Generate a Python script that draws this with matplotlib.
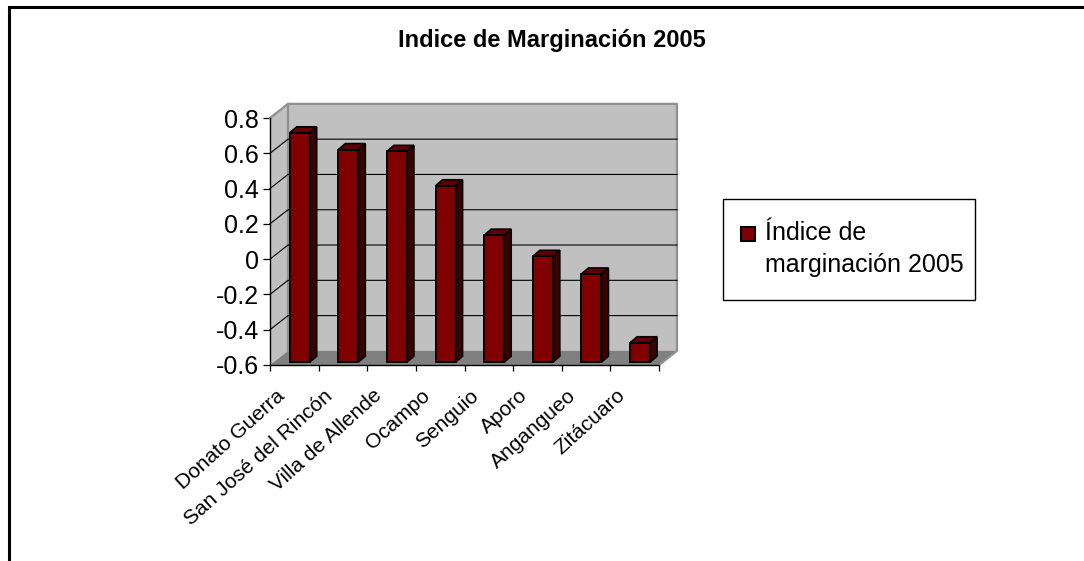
#!/usr/bin/env python3
"""Indice de marginacion 2005, drawn as a fake 3D column chart."""

import matplotlib
matplotlib.use('Agg')
import matplotlib.pyplot as plt
from matplotlib.patches import Polygon, Rectangle

plt.rcParams['font.family'] = ['Liberation Sans', 'DejaVu Sans']
plt.rcParams['axes.unicode_minus'] = False

municipios = ['Donato Guerra', 'San José del Rincón', 'Villa de Allende', 'Ocampo',
              'Senguio', 'Aporo', 'Angangueo', 'Zitácuaro']
indice = [0.70, 0.605, 0.595, 0.40, 0.12, 0.0, -0.10, -0.49]
y_ticks = [-0.6, -0.4, -0.2, 0, 0.2, 0.4, 0.6, 0.8]
y_labels = ['-0.6', '-0.4', '-0.2', '0', '0.2', '0.4', '0.6', '0.8']

W, H = 1084, 561
BAR = '#800000'
SIDE = '#3c0000'
TOP = '#600000'
BOX = '#909090'

fig = plt.figure(figsize=(W / 100, H / 100), dpi=100, facecolor='white')

# page frame, only top and left are visible in the crop
fig.add_artist(plt.Line2D([9 / W, 9 / W, 1], [0, 1 - 7 / H, 1 - 7 / H],
                          color='black', lw=2.2, solid_joinstyle='miter'))

ax = fig.add_axes([270 / W, 1 - 365 / H, 389 / W, 247 / H])
ax.set_xlim(0, 8)
ax.set_ylim(-0.6, 0.8)
ax.patch.set_visible(False)
for s in ['top', 'right']:
    ax.spines[s].set_visible(False)
for s in ['left', 'bottom']:
    ax.spines[s].set_linewidth(1.0)
    ax.spines[s].set_zorder(6)

# depth of the box and of the columns, in data units
dx, dy = 0.37, 0.08
bar_dx, bar_dy = 0.145, 0.034
shift_x, shift_y = 0.11, 0.016
width = 0.41

# walls and floor
ax.add_patch(Polygon([(dx, -0.6 + dy), (8 + dx, -0.6 + dy), (8 + dx, 0.8 + dy), (dx, 0.8 + dy)],
                     fc='#c0c0c0', ec='none', clip_on=False, zorder=1))
ax.add_patch(Polygon([(0, -0.6), (dx, -0.6 + dy), (dx, 0.8 + dy), (0, 0.8)],
                     fc='#c0c0c0', ec='none', clip_on=False, zorder=1))
ax.add_patch(Polygon([(0, -0.6), (8, -0.6), (8 + dx, -0.6 + dy), (dx, -0.6 + dy)],
                     fc='#808080', ec='none', clip_on=False, zorder=1))

# grey outline of the box
ax.plot([0, dx, 8 + dx, 8 + dx, 8], [0.8, 0.8 + dy, 0.8 + dy, -0.6 + dy, -0.6],
        color=BOX, lw=1.6, clip_on=False, zorder=2)
ax.plot([dx, dx], [-0.6 + dy, 0.8 + dy], color=BOX, lw=1.6, clip_on=False, zorder=2)

# gridlines run across the left wall and the back wall
for t in y_ticks[1:-1]:
    ax.plot([0, dx, 8 + dx], [t, t + dy, t + dy], color='black', lw=0.8,
            clip_on=False, zorder=2.5)

# columns
for i, v in enumerate(indice):
    x0 = i + 0.5 + shift_x - width / 2
    x1 = x0 + width
    y0 = -0.6 + shift_y
    y1 = v + shift_y
    ax.bar(x0 + width / 2, y1 - y0, width, bottom=y0, color=BAR, edgecolor='black',
           linewidth=1.4, zorder=4, clip_on=False)
    ax.add_patch(Polygon([(x1, y0), (x1 + bar_dx, y0 + bar_dy), (x1 + bar_dx, y1 + bar_dy), (x1, y1)],
                         fc=SIDE, ec='black', lw=1.2, clip_on=False, zorder=3.5))
    ax.add_patch(Polygon([(x0, y1), (x0 + bar_dx, y1 + bar_dy), (x1 + bar_dx, y1 + bar_dy), (x1, y1)],
                         fc=TOP, ec='black', lw=1.2, clip_on=False, zorder=3.5))

# axes ticks and labels
ax.set_yticks(y_ticks)
ax.set_yticklabels(y_labels, fontsize=18)
ax.tick_params(axis='y', length=5, width=0.9, pad=3)
ax.set_xticks(range(9))
ax.set_xticklabels([])
ax.tick_params(axis='x', which='major', length=4, width=0.9)
for i, name in enumerate(municipios):
    ax.annotate(name, xy=(i + 0.5, -0.6), xytext=(-19, -21), textcoords='offset pixels',
                rotation=42, rotation_mode='anchor', ha='right', va='top',
                fontsize=15, annotation_clip=False)

fig.text(552 / W, 1 - 40 / H, 'Indice de Marginación 2005', ha='center', va='center',
         fontsize=17, fontweight='bold')

# legend box
fig.add_artist(Rectangle((723 / W, 1 - 300 / H), 252 / W, 101 / H, transform=fig.transFigure,
                         fc='white', ec='black', lw=1))
fig.add_artist(Rectangle((741 / W, 1 - 241 / H), 14 / W, 14 / H, transform=fig.transFigure,
                         fc=BAR, ec='black', lw=1.5))
fig.text(765 / W, 1 - 233 / H, 'Índice de', fontsize=18, va='center', ha='left')
fig.text(765 / W, 1 - 265 / H, 'marginación 2005', fontsize=18, va='center', ha='left')

fig.savefig('out.png', dpi=100)
